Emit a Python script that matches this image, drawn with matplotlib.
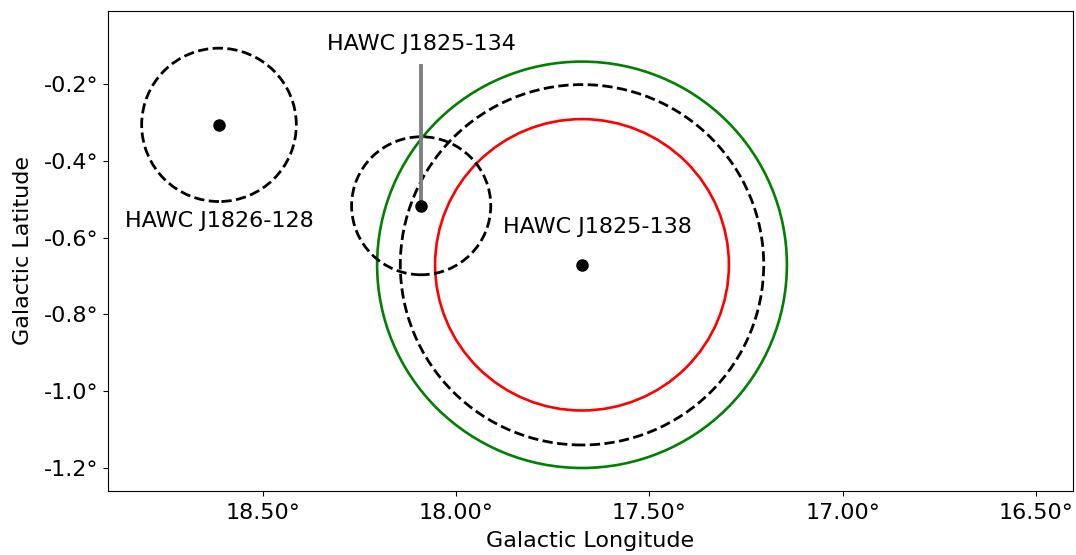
#!/usr/bin/env python3

import matplotlib
matplotlib.use('Agg')
import matplotlib.pyplot as plt
from matplotlib.patches import Circle
from matplotlib.ticker import FuncFormatter, FixedLocator

# Sources (galactic longitude, latitude in degrees)
names = ['HAWC J1826-128', 'HAWC J1825-134', 'HAWC J1825-138']
src_l = [18.613, 18.090, 17.674]
src_b = [-0.306, -0.517, -0.671]
src_r = [0.20, 0.18, 0.47]

# extra extension circles around HAWC J1825-138
ext_r = [0.38, 0.53]
ext_colors = ['red', 'green']

# label positions
label_l = [18.613, 18.090, 17.633]
label_b = [-0.556, -0.095, -0.572]

# connector line for J1825-134 label
line_b = [-0.1515, -0.517]

x_ticks = [18.5, 18.0, 17.5, 17.0, 16.5]
y_ticks = [-0.2, -0.4, -0.6, -0.8, -1.0, -1.2]


def main():
    fig = plt.figure(figsize=(10.76, 5.55), dpi=100)
    ax = fig.add_axes([0.1004, 0.1153, 0.8968, 0.8649])

    # extension circles
    for r, c in zip(ext_r, ext_colors):
        ax.add_patch(Circle((src_l[2], src_b[2]), r, fill=False, color=c, lw=1.9))

    for l, b, r in zip(src_l, src_b, src_r):
        ax.add_patch(Circle((l, b), r, fill=False, color='black', lw=2.0, ls='--'))

    ax.plot([src_l[1], src_l[1]], line_b, color='gray', lw=2.8, zorder=3)
    ax.plot(src_l, src_b, 'o', color='black', ms=8, zorder=4)

    for name, l, b in zip(names, label_l, label_b):
        ax.text(l, b, name, ha='center', va='center', fontsize=16)

    ax.set_xlim(18.90, 16.404)
    ax.set_ylim(-1.261, -0.009)

    ax.xaxis.set_major_locator(FixedLocator(x_ticks))
    ax.yaxis.set_major_locator(FixedLocator(y_ticks))
    ax.xaxis.set_major_formatter(FuncFormatter(lambda v, p: '%.2f°' % v))
    ax.yaxis.set_major_formatter(FuncFormatter(lambda v, p: ('%.1f°' % v).replace('\u2212', '-')))
    ax.tick_params(labelsize=16)
    ax.tick_params(axis='x', pad=5)

    ax.set_xlabel('Galactic Longitude', fontsize=16, labelpad=6)
    ax.set_ylabel('Galactic Latitude', fontsize=16, labelpad=8)

    fig.savefig('out.png', dpi=100)


if __name__ == '__main__':
    main()
